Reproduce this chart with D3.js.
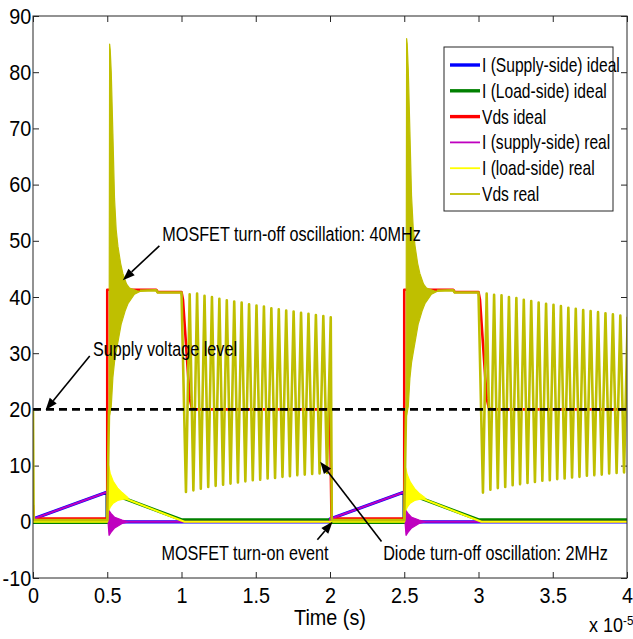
<!DOCTYPE html>
<html>
<head>
<meta charset="utf-8">
<script src="https://cdn.jsdelivr.net/npm/d3@7"></script>
<style>
  html, body { margin: 0; padding: 0; background: #fff; }
  svg text { font-family: "Liberation Sans", Arial, sans-serif; fill: #000; }
</style>
</head>
<body>
<svg id="chart" width="633" height="639"></svg>
<script>
// ---- Data (time in units of 1e-5 s) ----
const xTicks = [0, 0.5, 1, 1.5, 2, 2.5, 3, 3.5, 4];
const yTicks = [-10, 0, 10, 20, 30, 40, 50, 60, 70, 80, 90];
const supplyLevel = 20;

const seriesNames = [
  "I (Supply-side) ideal", "I (Load-side) ideal", "Vds ideal",
  "I (supply-side) real", "I (load-side) real", "Vds real"
];

// Ideal waveforms [time, value]
const supplyIdeal = [[0, 0.5], [0.5, 5.3], [0.5, 0], [2.0, 0], [2.0, 0.5], [2.5, 5.3], [2.5, 0], [4, 0]];
const loadIdeal = [[0, -0.1], [0.5, -0.1], [0.5, 5.3], [1.0, 0.35], [2.0, 0.35], [2.0, -0.1], [2.5, -0.1],
                   [2.5, 5.3], [3.0, 0.35], [4, 0.35]];
const vdsIdeal = [[0, 3], [0.003, 0.6], [0.5, 0.6], [0.5, 41.3], [0.83, 41.3], [0.84, 40.9], [1.0, 40.9],
                  [1.01, 39.5], [1.055, 22], [1.07, 20.2], [1.09, 20], [2.0, 20], [2.01, 0.6], [2.5, 0.6],
                  [2.5, 41.3], [2.83, 41.3], [2.84, 40.9], [3.0, 40.9], [3.01, 39.5], [3.055, 22],
                  [3.07, 20.2], [3.09, 20], [4, 20]];

// Real waveforms [time, value]
const supplyReal = [[0, 0.5], [0.5, 5.3], [0.51, 0], [2.0, 0], [2.0, 0.5], [2.5, 5.3], [2.51, 0], [4, 0]];
const loadReal = [[0, 0], [0.5, 0], [0.51, 5.3], [1.02, 0], [2.5, 0], [2.51, 5.3], [3.02, 0], [4, 0]];

const vdsRealOn1 = [[0, 20], [0.004, 0.3], [0.5, 0.3], [0.512, 20]];
const vdsRealPlateau1 = [[0.72, 41.1], [0.83, 41.2], [0.84, 40.8], [1.0, 40.8]];
const vdsRealOn2 = [[2.012, 0.3], [2.5, 0.3], [2.512, 20]];
const vdsRealPlateau2 = [[2.72, 41.1], [2.83, 41.2], [2.84, 40.8], [3.0, 40.8]];

// MOSFET turn-off ringing (40 MHz), upper / lower envelopes
const vdsRing1Upper = [[0.512, 20], [0.516, 85], [0.52, 84], [0.527, 80], [0.538, 69], [0.549, 57.5], [0.56, 52],
                       [0.572, 49], [0.59, 46], [0.605, 44.2], [0.63, 42.3], [0.65, 41.6], [0.7, 41.1], [0.72, 41]];
const vdsRing1Lower = [[0.512, 20], [0.516, 19], [0.527, 20.5], [0.538, 25.7], [0.549, 28.5], [0.561, 30.4],
                       [0.594, 35.2], [0.62, 37.5], [0.639, 38.8], [0.683, 40.5], [0.72, 41]];
const vdsRing2Upper = [[2.512, 20], [2.516, 86], [2.52, 85], [2.527, 80.5], [2.538, 69.5], [2.549, 58], [2.56, 52.5],
                       [2.572, 49.2], [2.59, 46], [2.605, 44.2], [2.63, 42.3], [2.65, 41.6], [2.7, 41.1], [2.72, 41]];
const vdsRing2Lower = [[2.512, 20], [2.516, 19], [2.527, 20.5], [2.538, 25.5], [2.549, 28.3], [2.561, 30.2],
                       [2.594, 35.2], [2.62, 37.5], [2.639, 38.8], [2.683, 40.5], [2.72, 41]];

const supplyRing1Upper = [[0.505, 0], [0.512, 2.0], [0.525, 1.5], [0.55, 0.8], [0.6, 0.3], [0.64, 0]];
const supplyRing1Lower = [[0.505, 0], [0.512, -2.4], [0.525, -1.9], [0.55, -1.1], [0.6, -0.3], [0.64, 0]];
const supplyRing2Upper = [[2.505, 0], [2.512, 2.0], [2.525, 1.5], [2.55, 0.8], [2.6, 0.3], [2.64, 0]];
const supplyRing2Lower = [[2.505, 0], [2.512, -2.4], [2.525, -1.9], [2.55, -1.1], [2.6, -0.3], [2.64, 0]];

const loadRing1Upper = [[0.505, 5], [0.51, 10], [0.52, 8.6], [0.54, 7.2], [0.57, 6.0], [0.6, 5.2], [0.64, 4.3]];
const loadRing1Lower = [[0.505, 5], [0.51, 2.0], [0.52, 2.6], [0.54, 3.3], [0.57, 3.8], [0.6, 4.0], [0.64, 4.1]];
const loadRing2Upper = [[2.505, 5], [2.51, 9.6], [2.52, 8.4], [2.54, 7.1], [2.57, 5.9], [2.6, 5.1], [2.64, 4.3]];
const loadRing2Lower = [[2.505, 5], [2.51, 2.0], [2.52, 2.6], [2.54, 3.3], [2.57, 3.8], [2.6, 4.0], [2.64, 4.1]];

// Diode turn-off oscillation (2 MHz): successive troughs / peaks of Vds
const diodeOscPeriod = 0.05;      // 0.5 us
const diodeOscFirstTrough = 0.03; // after the diode turn-off instant
const diodeOff = [1.0, 3.0];
const oscPeaks1 = [40.5, 40.6, 40.2, 40.0, 39.7, 39.4, 39.2, 39.0, 38.7, 38.5, 38.3, 38.0, 37.8, 37.6, 37.4, 37.2, 37.0, 36.8, 36.6, 36.4];
const oscTroughs1 = [5.3, 5.6, 5.9, 6.2, 6.4, 6.6, 6.8, 7.0, 7.2, 7.4, 7.5, 7.7, 7.8, 8.0, 8.1, 8.3, 8.4, 8.5, 8.6, 8.7];
const oscPeaks2 = [40.6, 40.4, 40.3, 40.0, 39.8, 39.5, 39.3, 39.0, 38.8, 38.6, 38.4, 38.1, 37.9, 37.7, 37.5, 37.3, 37.1, 36.9, 36.7, 36.5];
const oscTroughs2 = [5.2, 5.7, 6.0, 6.2, 6.5, 6.7, 6.9, 7.1, 7.3, 7.4, 7.6, 7.7, 7.9, 8.0, 8.2, 8.3, 8.4, 8.6, 8.7, 8.8];

// ---- Layout ----
const W = 633, H = 639;
const plot = { left: 33, right: 627, top: 16, bottom: 578 };
const FONT = 20;
const SX_TICK = 0.9, SX_NOTE = 0.81, SX_LEG = 0.78;   // narrow face

const x = d3.scaleLinear().domain([0, 4]).range([plot.left, plot.right]);
const y = d3.scaleLinear().domain([-10, 90]).range([plot.bottom, plot.top]);

const colors = ["#0000ff", "#008000", "#ff0000", "#bf00bf", "#ffff00", "#bfbf00"];
const widths = [3.2, 3.2, 2.6, 2.0, 2.0, 2.6];

const svg = d3.select("#chart");
svg.append("rect").attr("width", W).attr("height", H).attr("fill", "#fff");
svg.append("defs").append("clipPath").attr("id", "plot-clip")
  .append("rect").attr("x", plot.left).attr("y", plot.top)
  .attr("width", plot.right - plot.left).attr("height", plot.bottom - plot.top);

// ---- Axes (ticks inside, box on) ----
const axisColor = "#262626";
const plainNumber = d => String(d);   // ASCII hyphen for negatives
function styleAxis(g) {
  g.select(".domain").remove();
  g.selectAll(".tick line").attr("stroke", axisColor);
  g.selectAll(".tick text").attr("font-size", 22).attr("fill", "#000");
}
svg.append("g").attr("transform", `translate(0,${plot.bottom})`)
  .call(d3.axisBottom(x).tickValues(xTicks).tickFormat(plainNumber).tickSize(-6).tickPadding(9))
  .call(styleAxis)
  .call(g => g.selectAll(".tick text").attr("transform", `scale(${SX_TICK},1)`));
svg.append("g").attr("transform", `translate(0,${plot.top})`)
  .call(d3.axisTop(x).tickValues(xTicks).tickFormat("").tickSize(-6))
  .call(styleAxis);
svg.append("g").attr("transform", `translate(${plot.left},0)`)
  .call(d3.axisLeft(y).tickValues(yTicks).tickFormat(plainNumber).tickSize(-6).tickPadding(2))
  .call(styleAxis)
  .call(g => g.selectAll(".tick text").attr("transform", `scale(${SX_TICK},1)`));
svg.append("g").attr("transform", `translate(${plot.right},0)`)
  .call(d3.axisRight(y).tickValues(yTicks).tickFormat("").tickSize(-6))
  .call(styleAxis);

// ---- Series ----
const line = d3.line().x(d => x(d[0])).y(d => y(d[1]));
const data = svg.append("g").attr("clip-path", "url(#plot-clip)");

function drawLine(pts, i) {
  data.append("path").attr("d", line(pts)).attr("fill", "none")
    .attr("stroke", colors[i]).attr("stroke-width", widths[i]).attr("stroke-linejoin", "round");
}
function drawBand(upper, lower, i) {
  const poly = upper.concat(lower.slice().reverse());
  data.append("path").attr("d", line(poly) + "Z")
    .attr("fill", colors[i]).attr("stroke", colors[i]).attr("stroke-width", 1.2).attr("stroke-linejoin", "round");
}
function oscillation(t0, troughs, peaks) {
  const pts = [];
  troughs.forEach((v, k) => {
    const tk = t0 + diodeOscFirstTrough + k * diodeOscPeriod;
    pts.push([tk, v]);
    pts.push([tk + diodeOscPeriod / 2, peaks[k]]);
  });
  return pts;
}

drawLine(supplyIdeal, 0);
drawLine(loadIdeal, 1);
drawLine(vdsIdeal, 2);

drawLine(supplyReal, 3);
drawBand(supplyRing1Upper, supplyRing1Lower, 3);
drawBand(supplyRing2Upper, supplyRing2Lower, 3);

drawLine(loadReal, 4);
drawBand(loadRing1Upper, loadRing1Lower, 4);
drawBand(loadRing2Upper, loadRing2Lower, 4);

drawLine(vdsRealOn1, 5);
drawBand(vdsRing1Upper, vdsRing1Lower, 5);
drawLine(vdsRealPlateau1.concat(oscillation(diodeOff[0], oscTroughs1, oscPeaks1), vdsRealOn2), 5);
drawBand(vdsRing2Upper, vdsRing2Lower, 5);
drawLine(vdsRealPlateau2.concat(oscillation(diodeOff[1], oscTroughs2, oscPeaks2)), 5);

// Supply voltage reference
data.append("line")
  .attr("x1", x(0)).attr("x2", x(4)).attr("y1", y(supplyLevel)).attr("y2", y(supplyLevel))
  .attr("stroke", "#000").attr("stroke-width", 2.6).attr("stroke-dasharray", "8,5");

// Box
svg.append("rect").attr("x", plot.left).attr("y", plot.top)
  .attr("width", plot.right - plot.left).attr("height", plot.bottom - plot.top)
  .attr("fill", "none").attr("stroke", axisColor).attr("stroke-width", 1);

// ---- Text helper (narrow) ----
function label(str, px, py, anchor, sx, size) {
  return svg.append("text")
    .attr("transform", `translate(${px},${py}) scale(${sx},1)`)
    .attr("text-anchor", anchor || "start")
    .attr("dy", "0.35em")
    .attr("font-size", size || FONT)
    .text(str);
}

// Axis label and exponent
label("Time (s)", x(2), 617, "middle", SX_TICK, 22);
svg.append("text").attr("transform", `translate(589,625) scale(${SX_TICK},1)`)
  .attr("font-size", FONT).attr("dy", "0.35em")
  .text("x 10")
  .append("tspan").attr("dy", "-0.55em").attr("font-size", 13).text("-5");

// ---- Annotations ----
const notes = [
  { text: "MOSFET turn-off oscillation: 40MHz", pos: [0.871, 51.2], anchor: "start", tail: [0.851, 49.1], tip: [0.605, 43.0] },
  { text: "Supply voltage level", pos: [0.404, 30.7], anchor: "start", tail: [0.382, 29.5], tip: [0.085, 19.9] },
  { text: "MOSFET turn-on event", pos: [1.99, -5.6], anchor: "end", tail: [1.915, -3.2], tip: [2.017, 0.02] },
  { text: "Diode turn-off oscillation: 2MHz", pos: [2.358, -5.6], anchor: "start", tail: [2.347, -3.5], tip: [1.934, 10.7] }
];
const headLen = 12, headHalf = 4.5;
notes.forEach(n => {
  const x1 = x(n.tail[0]), y1 = y(n.tail[1]), x2 = x(n.tip[0]), y2 = y(n.tip[1]);
  const a = Math.atan2(y2 - y1, x2 - x1);
  const bx = x2 - headLen * Math.cos(a), by = y2 - headLen * Math.sin(a);
  svg.append("line").attr("x1", x1).attr("y1", y1).attr("x2", bx).attr("y2", by)
    .attr("stroke", "#000").attr("stroke-width", 1.6);
  const px = -Math.sin(a) * headHalf, py = Math.cos(a) * headHalf;
  svg.append("path")
    .attr("d", `M${x2},${y2}L${bx + px},${by + py}L${bx - px},${by - py}Z`)
    .attr("fill", "#000");
  label(n.text, x(n.pos[0]), y(n.pos[1]), n.anchor, SX_NOTE);
});

// ---- Legend ----
const legend = { x: 444, y: 47, w: 169, h: 164, row0: 65, pitch: 25.8 };
svg.append("rect").attr("x", legend.x).attr("y", legend.y).attr("width", legend.w).attr("height", legend.h)
  .attr("fill", "#fff").attr("stroke", axisColor).attr("stroke-width", 1);
seriesNames.forEach((name, i) => {
  const ly = legend.row0 + i * legend.pitch;
  svg.append("line").attr("x1", legend.x + 6).attr("x2", legend.x + 36).attr("y1", ly).attr("y2", ly)
    .attr("stroke", colors[i]).attr("stroke-width", i < 3 ? 3.4 : 1.8);
  label(name, legend.x + 38, ly, "start", SX_LEG);
});
</script>
</body>
</html>
